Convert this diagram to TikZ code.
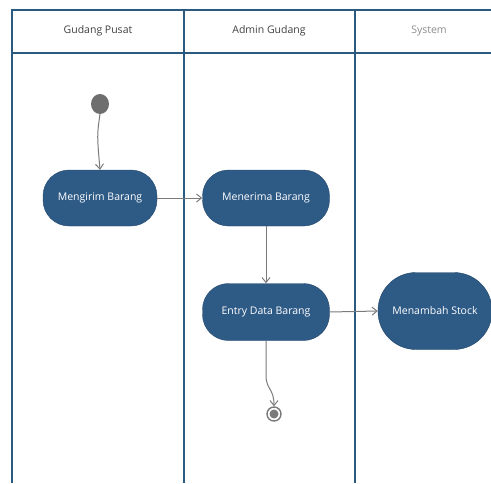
\documentclass[tikz,border=0pt]{standalone}
\usepackage{fontspec}
\setmainfont{Open Sans}
\usetikzlibrary{arrows.meta}
\definecolor{lane}{HTML}{2A5A80}
\definecolor{act}{HTML}{2E5A86}
\definecolor{flow}{HTML}{7A7A7A}
\tikzset{
  lanehead/.style={font=\fontsize{10.5}{12}\selectfont, text=black!75},
  activity/.style={draw=act!80!black, fill=act, rounded corners=26pt, text=white,
    font=\fontsize{10.5}{12}\selectfont, inner sep=0pt},
  flowline/.style={draw=flow, line width=1pt, -{Straight Barb[length=5pt,width=8pt]}},
}
\begin{document}
\begin{tikzpicture}[x=1pt,y=-1pt]
\useasboundingbox (0,0) rectangle (491,483);
\fill[white] (0,0) rectangle (491,483);
% swimlanes
\draw[lane, line width=1.1pt] (12,483) -- (12,10) -- (495,10);
\draw[lane, line width=1.1pt] (12,53) -- (495,53);
\draw[lane, line width=1.1pt] (184,10) -- (184,483);
\draw[lane, line width=1.1pt] (355,10) -- (355,483);
\node[lanehead] (h1) at (98,31) {Gudang Pusat};
\node[lanehead] (h2) at (269,31) {Admin Gudang};
\node[lanehead, text=black!45] (h3) at (429,31) {System};
% activities
\fill[flow!90!black] (100,104) ellipse (9 and 10);
\coordinate (start) at (100,114);
\node[activity, minimum width=114pt, minimum height=56pt] (kirim) at (100,198) {Mengirim Barang};
\node[activity, minimum width=127pt, minimum height=56pt] (terima) at (266,198) {Menerima Barang};
\node[activity, minimum width=127pt, minimum height=57pt] (entry) at (266,312) {Entry Data Barang};
\node[activity, minimum width=114pt, minimum height=77pt, rounded corners=38pt] (stock) at (435,311) {Menambah Stock};
% final node
\node[circle, draw=flow, line width=1.4pt, fill=white, minimum size=14pt, inner sep=0pt] (end) at (274,414) {};
\fill[flow] (end.center) circle (4.5);
% flows
\draw[flowline] (start) .. controls (97,135) .. (kirim.north);
\draw[flowline] (kirim.east) -- (terima.west);
\draw[flowline] (terima.south) -- (entry.north);
\draw[flowline] (entry.east) -- (stock.west);
\draw[flowline] (entry.south) -- (266,375) .. controls (266,390) and (274,388) .. (end.north);
\end{tikzpicture}
\end{document}
